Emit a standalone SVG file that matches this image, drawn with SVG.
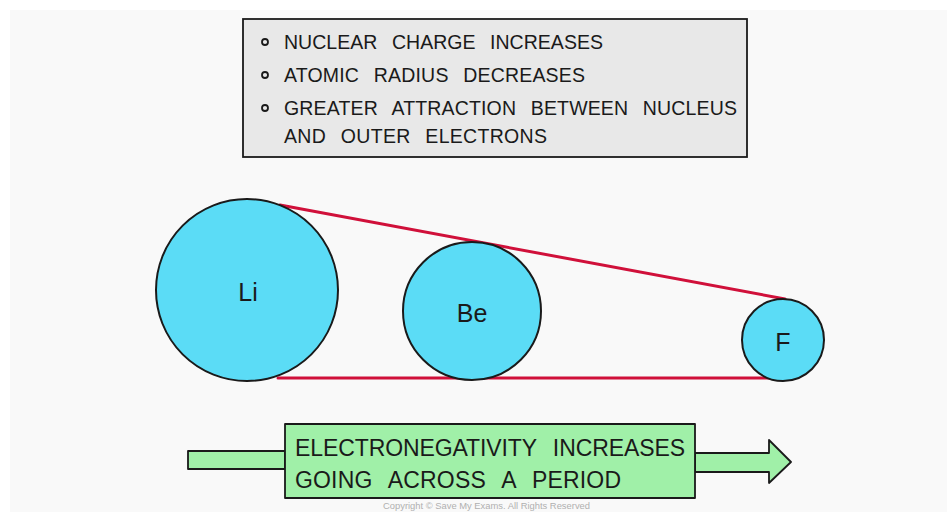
<svg xmlns="http://www.w3.org/2000/svg" width="947" height="512" viewBox="0 0 947 512">
<style>
.t{font-family:"Liberation Sans","DejaVu Sans",sans-serif;fill:#1a1a1a;}
.box{font-size:19.5px;word-spacing:9px;}
.green{font-size:23px;word-spacing:10px;}
.atom{fill:#5bdcf6;stroke:#1a1a1a;stroke-width:2;}
.lbl{font-size:25px;text-anchor:middle;}
.bul{fill:none;stroke:#1a1a1a;stroke-width:1.8;}
.red{stroke:#d0103a;stroke-width:3;stroke-linecap:round;fill:none;}
.arrow{fill:#a0f0a8;stroke:#1a1a1a;stroke-width:1.8;stroke-linejoin:round;}
</style>
<rect x="0" y="0" width="947" height="512" fill="#ffffff"/>
<rect x="10" y="10" width="937" height="502" fill="#f9f9f9"/>

<g id="textbox">
<rect x="243" y="19" width="504" height="138" fill="#e8e8e8" stroke="#1a1a1a" stroke-width="1.8"/>
<circle class="bul" cx="265" cy="42" r="3"/>
<circle class="bul" cx="265" cy="75" r="3"/>
<circle class="bul" cx="265" cy="108" r="3"/>
<text class="t box" x="284" y="49" textLength="319" lengthAdjust="spacing">NUCLEAR CHARGE INCREASES</text>
<text class="t box" x="284" y="82" textLength="301" lengthAdjust="spacing">ATOMIC RADIUS DECREASES</text>
<text class="t box" x="284" y="115" textLength="453" lengthAdjust="spacing">GREATER ATTRACTION BETWEEN NUCLEUS</text>
<text class="t box" x="284" y="143" textLength="263" lengthAdjust="spacing">AND OUTER ELECTRONS</text>
</g>

<g id="connectors">
<line class="red" x1="280" y1="205" x2="785" y2="299"/>
<line class="red" x1="278" y1="378" x2="782" y2="378"/>
</g>

<g id="node-li">
<circle class="atom" cx="247" cy="290" r="91"/>
<text class="t lbl" x="248" y="301">Li</text>
</g>
<g id="node-be">
<circle class="atom" cx="472" cy="311" r="69"/>
<text class="t lbl" x="472" y="322">Be</text>
</g>
<g id="node-f">
<circle class="atom" cx="783" cy="340" r="41"/>
<text class="t lbl" x="783" y="351">F</text>
</g>

<g id="arrow">
<rect class="arrow" x="188" y="451" width="97" height="18"/>
<path class="arrow" d="M695 453 L769 453 L769 440 L791 462 L769 483 L769 472 L695 472 Z"/>
<rect class="arrow" x="285" y="424" width="410" height="74"/>
<text class="t green" x="295" y="456" textLength="390" lengthAdjust="spacing">ELECTRONEGATIVITY INCREASES</text>
<text class="t green" x="295" y="488" textLength="326" lengthAdjust="spacing">GOING ACROSS A PERIOD</text>
</g>

<text x="383" y="509" textLength="207" lengthAdjust="spacingAndGlyphs" font-family="Liberation Sans, sans-serif" font-size="9" fill="#b0b0b0">Copyright © Save My Exams. All Rights Reserved</text>
</svg>
